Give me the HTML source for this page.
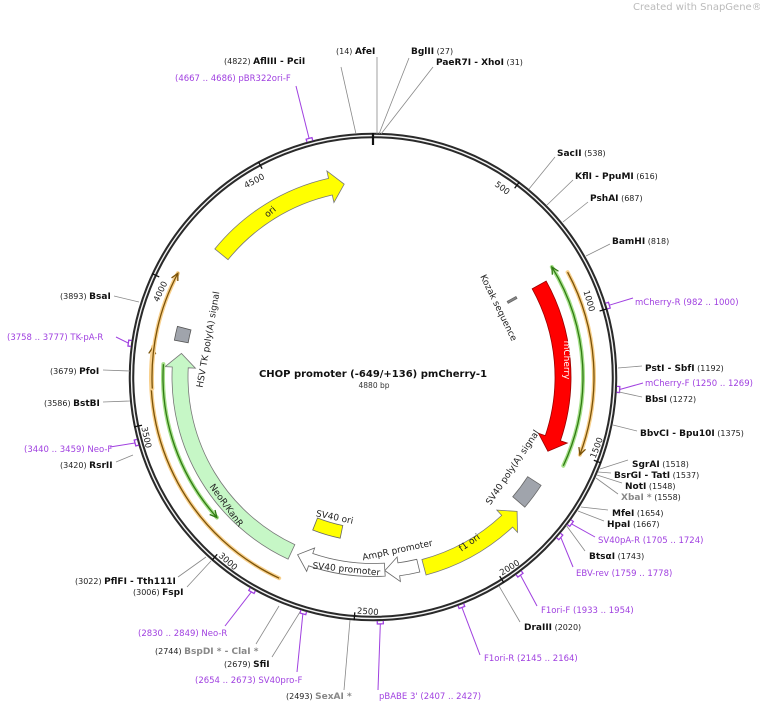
<!DOCTYPE html>
<html><head><meta charset="utf-8">
<style>
html,body{margin:0;padding:0;background:#fff;}
svg{display:block;font-family:"DejaVu Sans","Liberation Sans",sans-serif;}
.n{font-size:9px;font-weight:bold;fill:#111;}
.g{font-size:9px;font-weight:bold;fill:#888;}
.p{font-size:8px;fill:#222;}
.pu{font-size:8.5px;fill:#a040e0;}
.f{font-size:9px;fill:#222;}
.t{font-size:8.5px;fill:#222;}
</style></head><body>
<svg id="s" width="760" height="704" viewBox="0 0 760 704" xmlns="http://www.w3.org/2000/svg">
<text x="633" y="10" style="font-size:10px;fill:#bbb">Created with SnapGene®</text>
<g id="shapes"></g>

<g stroke="#888" stroke-width="0.8" fill="none">
<line x1="356" y1="134" x2="341" y2="67"/>
<line x1="377" y1="134" x2="377" y2="57"/>
<line x1="379" y1="134" x2="409" y2="58"/>
<line x1="381" y1="134" x2="433" y2="67"/>
<line x1="529" y1="189" x2="555" y2="157"/>
<line x1="547" y1="205" x2="573" y2="180"/>
<line x1="563" y1="222" x2="588" y2="202"/>
<line x1="586" y1="256" x2="610" y2="244"/>
<line x1="618" y1="368" x2="642" y2="366"/>
<line x1="619" y1="392" x2="642" y2="397"/>
<line x1="613" y1="425" x2="637" y2="431"/>
<line x1="600" y1="469" x2="628" y2="460"/>
<line x1="598" y1="472" x2="611" y2="473"/>
<line x1="597" y1="475" x2="622" y2="483"/>
<line x1="596" y1="478" x2="618" y2="494"/>
<line x1="581" y1="507" x2="608" y2="510"/>
<line x1="578" y1="511" x2="604" y2="521"/>
<line x1="566" y1="525" x2="585" y2="551"/>
<line x1="499" y1="586" x2="520" y2="622"/>
<line x1="350" y1="620" x2="344" y2="690"/>
<line x1="300" y1="612" x2="272" y2="657"/>
<line x1="279" y1="606" x2="256" y2="644"/>
<line x1="206" y1="557" x2="178" y2="577"/>
<line x1="211" y1="561" x2="187" y2="587"/>
<line x1="133" y1="455" x2="116" y2="462"/>
<line x1="130" y1="401" x2="103" y2="402"/>
<line x1="130" y1="371" x2="103" y2="370"/>
<line x1="139" y1="302" x2="114" y2="296"/>
</g>

<text x="224" y="64"><tspan class="p">(4822) </tspan><tspan class="n">AflIII</tspan><tspan class="n"> - PciI</tspan></text>
<text x="336" y="54"><tspan class="p">(14) </tspan><tspan class="n">AfeI</tspan></text>
<text x="411" y="54"><tspan class="n">BglII</tspan><tspan class="p">  (27)</tspan></text>
<text x="436" y="65"><tspan class="n">PaeR7I - XhoI</tspan><tspan class="p">  (31)</tspan></text>
<text x="175" y="81" class="pu">(4667 .. 4686)  pBR322ori-F</text>
<text x="557" y="156"><tspan class="n">SacII</tspan><tspan class="p">  (538)</tspan></text>
<text x="575" y="179"><tspan class="n">KflI - PpuMI</tspan><tspan class="p">  (616)</tspan></text>
<text x="590" y="201"><tspan class="n">PshAI</tspan><tspan class="p">  (687)</tspan></text>
<text x="612" y="244"><tspan class="n">BamHI</tspan><tspan class="p">  (818)</tspan></text>
<text x="635" y="305" class="pu">mCherry-R   (982 .. 1000)</text>
<text x="645" y="371"><tspan class="n">PstI - SbfI</tspan><tspan class="p">  (1192)</tspan></text>
<text x="645" y="386" class="pu">mCherry-F   (1250 .. 1269)</text>
<text x="645" y="402"><tspan class="n">BbsI</tspan><tspan class="p">  (1272)</tspan></text>
<text x="640" y="436"><tspan class="n">BbvCI - Bpu10I</tspan><tspan class="p">  (1375)</tspan></text>
<text x="632" y="467"><tspan class="n">SgrAI</tspan><tspan class="p">  (1518)</tspan></text>
<text x="614" y="478"><tspan class="n">BsrGI - TatI</tspan><tspan class="p">  (1537)</tspan></text>
<text x="625" y="489"><tspan class="n">NotI</tspan><tspan class="p">  (1548)</tspan></text>
<text x="621" y="500"><tspan class="g">XbaI *</tspan><tspan class="p">  (1558)</tspan></text>
<text x="612" y="516"><tspan class="n">MfeI</tspan><tspan class="p">  (1654)</tspan></text>
<text x="607" y="527"><tspan class="n">HpaI</tspan><tspan class="p">  (1667)</tspan></text>
<text x="598" y="543" class="pu">SV40pA-R   (1705 .. 1724)</text>
<text x="589" y="559"><tspan class="n">BtsαI</tspan><tspan class="p">  (1743)</tspan></text>
<text x="576" y="576" class="pu">EBV-rev   (1759 .. 1778)</text>
<text x="541" y="613" class="pu">F1ori-F   (1933 .. 1954)</text>
<text x="524" y="630"><tspan class="n">DraIII</tspan><tspan class="p">  (2020)</tspan></text>
<text x="484" y="661" class="pu">F1ori-R   (2145 .. 2164)</text>
<text x="379" y="699" class="pu">pBABE 3'   (2407 .. 2427)</text>
<text x="286" y="699"><tspan class="p">(2493)  </tspan><tspan class="g">SexAI *</tspan></text>
<text x="195" y="683" class="pu">(2654 .. 2673)  SV40pro-F</text>
<text x="224" y="667"><tspan class="p">(2679)  </tspan><tspan class="n">SfiI</tspan></text>
<text x="155" y="654"><tspan class="p">(2744)  </tspan><tspan class="g">BspDI * - ClaI *</tspan></text>
<text x="138" y="636" class="pu">(2830 .. 2849)  Neo-R</text>
<text x="75" y="584"><tspan class="p">(3022)  </tspan><tspan class="n">PflFI - Tth111I</tspan></text>
<text x="133" y="595"><tspan class="p">(3006)  </tspan><tspan class="n">FspI</tspan></text>
<text x="60" y="468"><tspan class="p">(3420)  </tspan><tspan class="n">RsrII</tspan></text>
<text x="24" y="452" class="pu">(3440 .. 3459)  Neo-F</text>
<text x="44" y="406"><tspan class="p">(3586)  </tspan><tspan class="n">BstBI</tspan></text>
<text x="50" y="374"><tspan class="p">(3679)  </tspan><tspan class="n">PfoI</tspan></text>
<text x="7" y="340" class="pu">(3758 .. 3777)  TK-pA-R</text>
<text x="60" y="299"><tspan class="p">(3893)  </tspan><tspan class="n">BsaI</tspan></text>

<g class="t">
<text x="371" y="151" text-anchor="end" transform="rotate(36.9 373 377)">500</text>
<text x="371" y="151" text-anchor="end" transform="rotate(73.8 373 377)">1000</text>
<text x="375" y="614" transform="rotate(-69.3 373 377)">1500</text>
<text x="375" y="614" transform="rotate(-32.5 373 377)">2000</text>
<text x="375" y="614" transform="rotate(4.4 373 377)">2500</text>
<text x="375" y="614" transform="rotate(41.3 373 377)">3000</text>
<text x="375" y="614" transform="rotate(78.2 373 377)">3500</text>
<text x="371" y="151" text-anchor="end" transform="rotate(-64.9 373 377)">4000</text>
<text x="371" y="151" text-anchor="end" transform="rotate(-28 373 377)">4500</text>
</g>

<text class="f" x="0" y="0" text-anchor="middle" transform="translate(272,214) rotate(-40)">ori</text>
<text class="f" x="0" y="0" text-anchor="middle" style="fill:#fff" transform="translate(564,360) rotate(90)">mCherry</text>
<text class="f" x="0" y="0" text-anchor="middle" transform="translate(496,309) rotate(64)">Kozak sequence</text>
<text class="f" x="0" y="0" text-anchor="middle" transform="translate(515,469) rotate(-56)">SV40 poly(A) signal</text>
<text class="f" x="0" y="0" text-anchor="middle" transform="translate(471,545) rotate(-35)">f1 ori</text>
<text class="f" x="0" y="0" text-anchor="middle" transform="translate(398,553) rotate(-12)">AmpR promoter</text>
<text class="f" x="0" y="0" text-anchor="middle" transform="translate(346,572) rotate(6)">SV40 promoter</text>
<text class="f" x="0" y="0" text-anchor="middle" transform="translate(334,520) rotate(12)">SV40 ori</text>
<text class="f" x="0" y="0" text-anchor="middle" transform="translate(224,507) rotate(54)">NeoR/KanR</text>
<text class="f" x="0" y="0" text-anchor="middle" transform="translate(211,340) rotate(-80)">HSV TK poly(A) signal</text>

<text x="373" y="377" text-anchor="middle" style="font-size:10px;font-weight:bold;fill:#111">CHOP promoter (-649/+136) pmCherry-1</text>
<text x="374" y="388" text-anchor="middle" style="font-size:7.5px;fill:#333">4880 bp</text>
</svg>
<script>
(function(){
var cx=373,cy=377,NS="http://www.w3.org/2000/svg",g=document.getElementById("shapes");
function P(a,r){var t=a*Math.PI/180;return [cx+r*Math.sin(t),cy-r*Math.cos(t)];}
function f(p){return p[0].toFixed(2)+","+p[1].toFixed(2);}
function el(n,at){var e=document.createElementNS(NS,n);for(var k in at)e.setAttribute(k,at[k]);g.appendChild(e);return e;}
function arc(a1,a2,r){var s=P(a1,r),e=P(a2,r);return "M"+f(s)+" A"+r+","+r+" 0 "+((a2-a1)>180?1:0)+" 1 "+f(e);}
function band(a1,a2,r,w,head,fill,stroke){
 var ro=r+w/2,ri=r-w/2,hw=w*0.45,hl=14/r*180/Math.PI,d;
 if(head==="end"){var b=a2-hl;
  d="M"+f(P(a1,ro))+" A"+ro+","+ro+" 0 0 1 "+f(P(b,ro))+" L"+f(P(b,ro+hw))+" L"+f(P(a2,r))+" L"+f(P(b,ri-hw))+" L"+f(P(b,ri))+" A"+ri+","+ri+" 0 0 0 "+f(P(a1,ri))+"Z";}
 else if(head==="start"){var b=a1+hl;
  d="M"+f(P(a1,r))+" L"+f(P(b,ro+hw))+" L"+f(P(b,ro))+" A"+ro+","+ro+" 0 0 1 "+f(P(a2,ro))+" L"+f(P(a2,ri))+" A"+ri+","+ri+" 0 0 0 "+f(P(b,ri))+" L"+f(P(b,ri-hw))+"Z";}
 else{d="M"+f(P(a1,ro))+" A"+ro+","+ro+" 0 0 1 "+f(P(a2,ro))+" L"+f(P(a2,ri))+" A"+ri+","+ri+" 0 0 0 "+f(P(a1,ri))+"Z";}
 el("path",{d:d,fill:fill,stroke:stroke,"stroke-width":0.8});
}
function thin(a1,a2,r,head,glow,col){
 el("path",{d:arc(a1,a2,r),fill:"none",stroke:glow,"stroke-width":4,"stroke-linecap":"round"});
 el("path",{d:arc(a1,a2,r),fill:"none",stroke:col,"stroke-width":1.3});
 var hl=7/r*180/Math.PI,tip,b;
 if(head==="end"){tip=a2;b=a2-hl;}else{tip=a1;b=a1+hl;}
 el("path",{d:"M"+f(P(b,r+3.5))+" L"+f(P(tip,r))+" L"+f(P(b,r-3.5)),fill:"none",stroke:col,"stroke-width":1.3});
}
el("circle",{cx:cx,cy:cy,r:241.5,fill:"none",stroke:"#2a2a2a","stroke-width":5.5});
el("circle",{cx:cx,cy:cy,r:241.5,fill:"none",stroke:"#f4f4f4","stroke-width":1.4});
for(var i=1;i<=9;i++){var a=i*500*360/4880;el("line",{x1:P(a,236)[0],y1:P(a,236)[1],x2:P(a,244)[0],y2:P(a,244)[1],stroke:"#111","stroke-width":1.3});}
el("line",{x1:cx,y1:cy-232,x2:cx,y2:cy-244,stroke:"#111","stroke-width":2.2});
band(309,351.5,195,17,"end","#ffff00","#777");
band(61,113,190,16,"end","#ff0000","#990000");
band(133,165,197,16,"start","#ffff00","#777");
band(166.5,176.5,194,13,"end","#fff","#666");
band(176.5,203,193,13,"end","#fff","#666");
band(205,277,193,16,"end","#c6f7c6","#777");
band(191.5,201.5,158,13,null,"#ffff00","#666");
band(122.8,130.6,192,16,null,"#a0a4ac","#666");
band(280.5,284.5,195,14,null,"#a0a4ac","#555");
band(60.6,61.4,159,10,null,"#888","#666");
thin(58.4,115,210,"start","#a6e08a","#2f7a12");
thin(61.7,110.6,221,"end","#f8d08c","#7a5208");
thin(228,273.5,210,"start","#a6e08a","#2f7a12");
thin(205,277.8,222,"end","#f8d08c","#7a5208");
thin(267,298,221,"end","#f8d08c","#7a5208");
var pr=[[344.3,345.7,296,86],[72.4,73.8,633,298],[92.2,93.6,643,383],[125.8,127.2,595,537],[129.8,131.2,573,567],[142.6,144.1,537,606],[158.2,159.6,480,655],[177.6,179,378,690],[195.8,197.2,297,672],[208.8,210.2,225,626],[253.8,255.2,110,447],[277.2,278.6,116,337]];
pr.forEach(function(q){var r=247;
 el("path",{d:"M"+f(P(q[0],244))+" L"+f(P(q[0],r))+" A"+r+","+r+" 0 0 1 "+f(P(q[1],r))+" L"+f(P(q[1],244)),fill:"none",stroke:"#a040e0","stroke-width":1.3});
 var m=P((q[0]+q[1])/2,r);
 el("line",{x1:m[0],y1:m[1],x2:q[2],y2:q[3],stroke:"#a040e0","stroke-width":1});
});
})();
</script>
</body></html>
